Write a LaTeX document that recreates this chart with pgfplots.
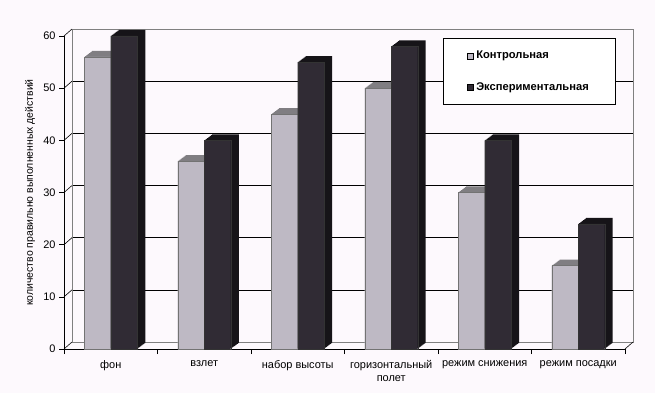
\documentclass[border=0pt]{standalone}
\usepackage{fontspec}
\setmainfont{Liberation Sans}
\usepackage{pgfplots}
\pgfplotsset{compat=1.18}
\definecolor{bg}{RGB}{253,249,253}
\definecolor{ctrl}{RGB}{190,185,196}
\definecolor{ctrltop}{RGB}{128,126,130}
\definecolor{expf}{RGB}{48,43,52}
\definecolor{expside}{RGB}{22,20,24}
\tikzset{
 ext/.style={
  preaction={fill=#1,draw=none,transform canvas={shift={(8bp,6bp)}}},
  preaction={fill=#1,draw=none,transform canvas={shift={(7bp,5.25bp)}}},
  preaction={fill=#1,draw=none,transform canvas={shift={(6bp,4.5bp)}}},
  preaction={fill=#1,draw=none,transform canvas={shift={(5bp,3.75bp)}}},
  preaction={fill=#1,draw=none,transform canvas={shift={(4bp,3bp)}}},
  preaction={fill=#1,draw=none,transform canvas={shift={(3bp,2.25bp)}}},
  preaction={fill=#1,draw=none,transform canvas={shift={(2bp,1.5bp)}}},
  preaction={fill=#1,draw=none,transform canvas={shift={(1bp,0.75bp)}}}
 }}
\pgfplotstableread{
x ctrl exp
0 56 60
1 36 40
2 45 55
3 50 58
4 30 40
5 16 24
}\datatable
\begin{document}
\begin{tikzpicture}[font=\fontsize{11}{13}\selectfont]
\path[use as bounding box, fill=bg] (-64bp,-44bp) rectangle (591bp,349bp);
% back wall
\begin{axis}[
  at={(8bp,7bp)}, anchor=south west,
  scale only axis, width=561bp, height=313bp,
  xmin=-0.5, xmax=5.5, ymin=0, ymax=60,
  xtick=\empty, ytick={0,10,...,60}, yticklabels={},
  major tick length=0pt,
  ymajorgrids, grid style={black, line width=0.6bp},
  axis line style={draw=black!50, line width=0.6bp},
]
\addplot[draw=none, forget plot] coordinates {(0,0)};
\end{axis}
% front
\begin{axis}[
  at={(0,0)}, anchor=south west,
  scale only axis, width=561bp, height=313bp,
  xmin=-0.5, xmax=5.5, ymin=0, ymax=60,
  clip=false,
  axis x line*=bottom, axis y line*=left,
  axis line style={-, black, line width=0.6bp},
  ytick={0,10,...,60},
  ytick align=outside, major tick length=5bp,
  tick style={black, line width=0.6bp},
  /pgf/number format/assume math mode=true,
  tick label style={font=\fontsize{11}{13}\selectfont},
  xtick={0,...,5},
  xticklabels={фон, взлет, набор высоты, {горизонтальный\\полет}, режим снижения, режим посадки},
  xticklabel style={align=center, yshift=-8bp, text depth=0pt},
  major x tick style={draw=none},
  extra x ticks={-0.5,0.5,1.5,2.5,3.5,4.5,5.5},
  extra x tick labels={},
  extra x tick style={major x tick style={draw=black, line width=0.6bp}, xtick align=outside},
  ylabel={количество правильно выполненных действий},
  ylabel style={at={(axis description cs:{-34/561},0.5)}, anchor=center, font=\fontsize{10.5}{12}\selectfont},
  legend style={at={(axis description cs:{379/561},{311/313})}, anchor=north west,
    draw=black, line width=0.6bp, fill=white, inner xsep=24bp, inner ysep=11bp, row sep=18bp,
    font=\fontsize{11.2}{13}\selectfont\bfseries, legend cell align=left,
    nodes={inner xsep=2.5bp}},
  legend image code/.code={\draw[#1, line width=0.5bp] (0bp,-3bp) rectangle (6bp,3bp);},
]
\addplot[ybar, bar width=26.5bp, bar shift=-13.25bp, fill=ctrl, draw=black!55, line width=0.4bp, ext=ctrltop, forget plot] table[x=x, y=ctrl] {\datatable};
\addplot[ybar, bar width=26.5bp, bar shift=13.25bp, fill=expf, draw=black!80, line width=0.4bp, ext=expside, forget plot] table[x=x, y=exp] {\datatable};
\addlegendimage{fill=ctrl, draw=black}
\addlegendentry{Контрольная}
\addlegendimage{fill=expf, draw=black}
\addlegendentry{Экспериментальная}
\pgfplotsinvokeforeach{0,10,20,30,40,50,60}{
  \draw[black, line width=0.6bp] (axis cs:-0.5,#1) -- ++(8bp,7bp);
}
\draw[black, line width=0.6bp] (rel axis cs:1,0) -- ++(8bp,7bp);
\end{axis}
\end{tikzpicture}
\end{document}
